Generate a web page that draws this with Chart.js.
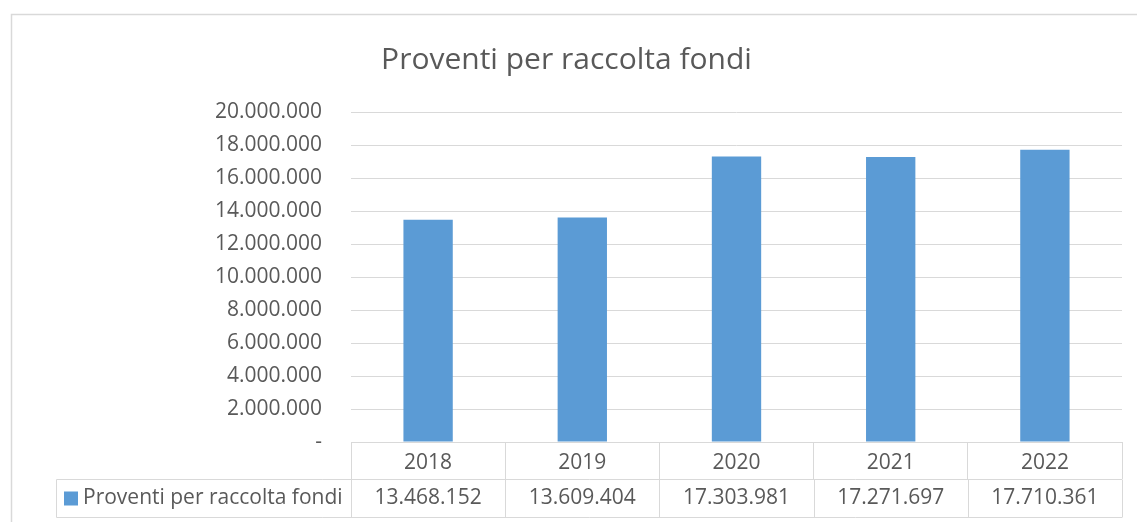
<!DOCTYPE html>
<html>
<head>
<meta charset="utf-8">
<script src="https://cdn.jsdelivr.net/npm/chart.js@4.4.0/dist/chart.umd.min.js"></script>
<style>
  html, body { margin: 0; padding: 0; background: #fff; }
  #wrap { width: 1137px; height: 522px; }
</style>
</head>
<body>
<div id="wrap"><canvas id="proventiChart"></canvas></div>
<script>
// dati
const anni = ['2018', '2019', '2020', '2021', '2022'];
const proventi = [13468152, 13609404, 17303981, 17271697, 17710361];
const nomeSerie = 'Proventi per raccolta fondi';
const tickAsseY = [0, 2000000, 4000000, 6000000, 8000000, 10000000,
  12000000, 14000000, 16000000, 18000000, 20000000];

const BLU = '#5B9BD5';
const GRIGIO = '#D9D9D9';
const TESTO = '#595959';
const FONT = 'Open Sans';

// formato contabile: punto come separatore, zero come trattino
function formatoIt(v) {
  if (v === 0) return '-';
  return String(Math.round(v)).replace(/\B(?=(\d{3})+(?!\d))/g, '.');
}

// cornice esterna del grafico
const cornice = {
  id: 'cornice',
  beforeDraw(chart) {
    const ctx = chart.ctx;
    ctx.save();
    ctx.strokeStyle = GRIGIO;
    ctx.lineWidth = 1.5;
    ctx.strokeRect(11.5, 14.5, 1400, 800);
    ctx.restore();
  }
};

// riga della tabella dati sotto l'asse x
const tabellaDati = {
  id: 'tabellaDati',
  afterDraw(chart) {
    const ctx = chart.ctx;
    const x = chart.scales.x;
    const top = Math.round(x.bottom) + 0.5;
    const h = 38;
    const sinistra = 56.5;
    ctx.save();
    ctx.strokeStyle = GRIGIO;
    ctx.lineWidth = 1;
    ctx.beginPath();
    ctx.moveTo(sinistra, top); ctx.lineTo(x.right, top);
    ctx.moveTo(sinistra, top + h); ctx.lineTo(x.right, top + h);
    ctx.moveTo(sinistra, top); ctx.lineTo(sinistra, top + h);
    for (let i = 0; i <= anni.length; i++) {
      const bx = Math.round(x.getPixelForValue(i - 0.5)) + 0.5;
      ctx.moveTo(bx, top); ctx.lineTo(bx, top + h);
    }
    ctx.stroke();

    // legenda
    ctx.fillStyle = BLU;
    ctx.fillRect(64, top + h / 2 - 7, 14, 14);
    ctx.fillStyle = TESTO;
    ctx.font = '21px "' + FONT + '"';
    ctx.textBaseline = 'middle';
    ctx.textAlign = 'left';
    ctx.fillText(nomeSerie, 83, top + h / 2);

    // valori
    ctx.textAlign = 'center';
    proventi.forEach((v, i) => {
      ctx.fillText(formatoIt(v), x.getPixelForValue(i), top + h / 2);
    });
    ctx.restore();
  }
};

new Chart(document.getElementById('proventiChart'), {
  type: 'bar',
  data: {
    labels: anni,
    datasets: [{
      label: nomeSerie,
      data: proventi,
      backgroundColor: BLU,
      categoryPercentage: 1,
      barPercentage: 0.32
    }]
  },
  options: {
    responsive: true,
    maintainAspectRatio: false,
    animation: false,
    layout: { padding: { top: 42, left: 11, right: 15, bottom: 43 } },
    plugins: {
      legend: { display: false },
      tooltip: { enabled: false },
      title: {
        display: true,
        text: nomeSerie,
        color: TESTO,
        font: { family: FONT, size: 30, weight: 'normal' },
        padding: { top: 0, bottom: 34 }
      }
    },
    scales: {
      x: {
        position: 'bottom',
        offset: true,
        afterFit: s => { s.height = 37; },
        grid: {
          offset: true,
          drawOnChartArea: false,
          drawTicks: true,
          tickLength: 37,
          color: GRIGIO
        },
        border: { display: true, color: GRIGIO },
        ticks: {
          padding: -29,
          color: TESTO,
          font: { family: FONT, size: 21 },
          maxRotation: 0
        }
      },
      y: {
        min: 0,
        max: 20000000,
        afterFit: s => { s.width = 340; },
        afterBuildTicks: s => { s.ticks = tickAsseY.map(v => ({ value: v })); },
        grid: { color: GRIGIO, drawTicks: false },
        border: { display: false },
        ticks: {
          padding: 29,
          color: TESTO,
          font: { family: FONT, size: 21 },
          callback: v => formatoIt(v)
        }
      }
    }
  },
  plugins: [cornice, tabellaDati]
});
</script>
</body>
</html>
